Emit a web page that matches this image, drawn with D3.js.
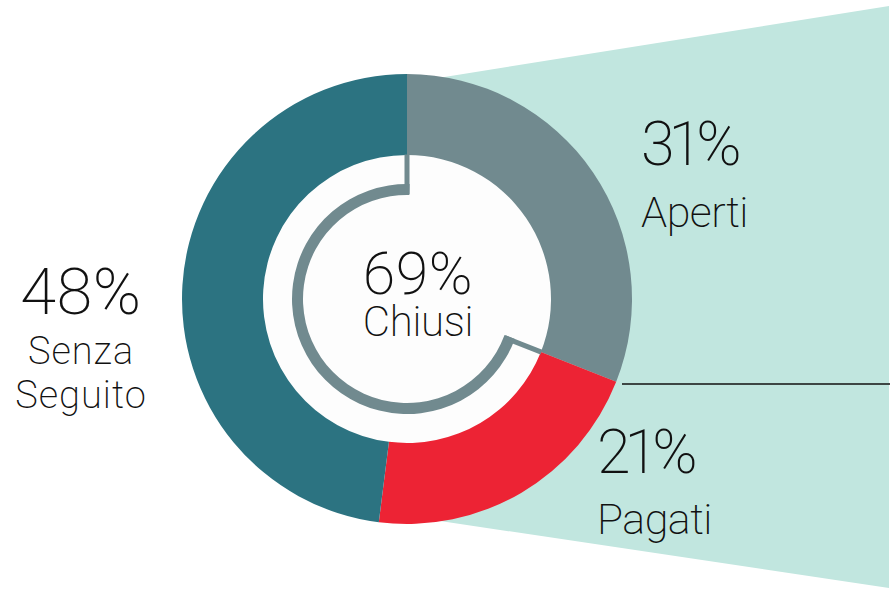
<!DOCTYPE html>
<html>
<head>
<meta charset="utf-8">
<script src="https://cdn.jsdelivr.net/npm/d3@7"></script>
<style>
  html, body { margin: 0; padding: 0; background: #ffffff; }
  svg { display: block; }
  text { font-family: Roboto, "Liberation Sans", sans-serif; font-weight: 200; fill: #111111; }
</style>
</head>
<body>
<svg id="chart" width="890" height="591"></svg>
<script>
// ---- data ----
const categories = ["Aperti", "Pagati", "Senza Seguito"];
const values = [31, 21, 48];
const colors = ["#718a8f", "#ed2334", "#2c7381"];
const groupLabel = "Chiusi";
const groupMembers = ["Pagati", "Senza Seguito"];

// ---- layout ----
const W = 890, H = 591;
const cx = 407, cy = 299;
const rOuter = 225, rInner = 144;
const ringOuter = 115, ringInner = 104;
const svg = d3.select("#chart");

// light callout trapezoid behind the donut
svg.append("polygon")
  .attr("points", [[cx, 83], [889, 6], [889, 588], [cx, 516]].map(p => p.join(",")).join(" "))
  .attr("fill", "#c1e6df");

// separator line
svg.append("line")
  .attr("x1", 622).attr("x2", 890)
  .attr("y1", 384).attr("y2", 384)
  .attr("stroke", "#111").attr("stroke-width", 1.3);

const g = svg.append("g").attr("transform", `translate(${cx},${cy})`);

const pie = d3.pie().sort(null).value(d => d.v);
const data = categories.map((c, i) => ({ c, v: values[i], col: colors[i] }));
const arcs = pie(data);
const arc = d3.arc().innerRadius(rInner).outerRadius(rOuter);

g.append("circle").attr("r", rInner + 1).attr("fill", "#fdfdfd");

g.selectAll("path.slice").data(arcs).enter().append("path")
  .attr("class", "slice")
  .attr("d", arc)
  .attr("fill", d => d.data.col);

// inner bracket arc spanning the "Chiusi" group
const members = arcs.filter(a => groupMembers.includes(a.data.c));
const gStart = d3.min(members, a => a.startAngle);
const gEnd = d3.max(members, a => a.endAngle);
const half = 2.5;
const pad = half / ((ringInner + ringOuter) / 2);
const bracketColor = colors[0];
g.append("path")
  .attr("d", d3.arc().innerRadius(ringInner).outerRadius(ringOuter)
    .startAngle(gStart - pad).endAngle(gEnd + pad)())
  .attr("fill", bracketColor);

[gStart, gEnd].forEach(a => {
  g.append("rect")
    .attr("x", -half).attr("width", half * 2)
    .attr("y", -rInner - 0.5).attr("height", rInner + 0.5 - ringInner - 1)
    .attr("transform", `rotate(${a * 180 / Math.PI})`)
    .attr("fill", bracketColor);
});

// ---- labels ----
const pct = v => v + "%";
const groupValue = d3.sum(members, a => a.data.v);

function label(x, y, txt, size, anchor, ls) {
  svg.append("text")
    .attr("x", x).attr("y", y)
    .attr("font-size", size)
    .attr("text-anchor", anchor)
    .attr("letter-spacing", ls || 0)
    .text(txt);
}
// Aperti
label(641, 165, pct(values[0]), 61, "start", -6);
label(641, 227, categories[0], 43, "start", -0.5);
// Pagati
label(597, 473, pct(values[1]), 61, "start", -6);
label(597, 534, categories[1], 43, "start", -0.5);
// Senza Seguito
const ss = categories[2].split(" ");
label(81, 314, pct(values[2]), 65, "middle", 0.5);
label(81, 364, ss[0], 38, "middle", 1);
label(81, 408, ss[1], 38, "middle", 1);
// centre
label(418, 294, pct(groupValue), 59, "middle", 0.5);
label(418, 336, groupLabel, 42, "middle", -0.3);
</script>
</body>
</html>
